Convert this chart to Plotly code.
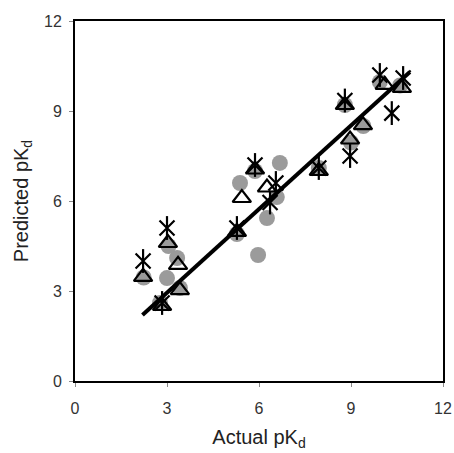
import plotly.graph_objects as go

# Gray circles series
circ_x = [2.77, 3.0, 3.42, 3.33, 3.05, 2.24, 5.28, 5.97, 5.38, 5.87, 6.68, 6.58, 6.26, 7.95, 8.8, 9.4, 9.0, 9.94, 10.6]
circ_y = [2.6, 3.43, 3.1, 4.1, 4.5, 3.45, 4.9, 4.2, 6.6, 7.0, 7.27, 6.13, 5.43, 7.1, 9.2, 8.5, 7.95, 9.97, 9.85]

# Open triangles series
tri_x = [2.84, 3.42, 3.36, 3.03, 2.22, 5.28, 5.44, 5.87, 6.26, 7.95, 8.8, 9.39, 8.97, 10.1, 10.66]
tri_y = [2.5, 3.03, 3.87, 4.6, 3.47, 4.97, 6.1, 7.05, 6.45, 7.0, 9.2, 8.53, 8.05, 9.87, 9.77]

# Asterisk series
ast_x = [2.84, 3.0, 2.22, 5.28, 5.87, 6.55, 6.36, 7.95, 8.8, 8.97, 9.94, 10.7, 10.33]
ast_y = [2.6, 5.1, 4.0, 5.1, 7.2, 6.6, 5.95, 7.1, 9.35, 7.5, 10.2, 10.1, 8.93]

# Trend line end points
fit_x = [2.2, 10.92]
fit_y = [2.2, 10.3]

ticks = [0, 3, 6, 9, 12]

fig = go.Figure()
fig.add_trace(go.Scatter(x=circ_x, y=circ_y, mode="markers",
                         marker=dict(symbol="circle", size=16, color="#9b9b9b", line=dict(width=0))))
fig.add_trace(go.Scatter(x=tri_x, y=tri_y, mode="markers",
                         marker=dict(symbol="triangle-up-open", size=16, color="black", line=dict(width=2.2, color="black"))))
fig.add_trace(go.Scatter(x=ast_x, y=ast_y, mode="markers",
                         marker=dict(symbol="x-thin-open", size=15, color="black", line=dict(width=2.2, color="black"))))
fig.add_trace(go.Scatter(x=ast_x, y=ast_y, mode="markers",
                         marker=dict(symbol="line-ns-open", size=17, color="black", line=dict(width=2.2, color="black"))))
fig.add_trace(go.Scatter(x=fit_x, y=fit_y, mode="lines", line=dict(color="black", width=4)))

def axis(standoff):
    return dict(range=[0, 12], tickvals=ticks, ticktext=[str(t) for t in ticks],
                showgrid=False, zeroline=False, showline=True, mirror=True,
                linecolor="black", linewidth=2, ticks="outside", ticklen=4,
                tickcolor="#888", tickwidth=1, ticklabelstandoff=standoff,
                automargin=False,
                tickfont=dict(family="Liberation Sans, Arial", size=16, color="#333"))

fig.update_layout(
    width=454, height=453,
    margin=dict(l=75, r=11, t=21, b=72),
    paper_bgcolor="white", plot_bgcolor="white",
    showlegend=False,
    xaxis=dict(**axis(8), title=dict(text="Actual pK<sub>d</sub>", standoff=14,
               font=dict(family="Liberation Sans, Arial", size=20, color="#222"))),
    yaxis=dict(**axis(4), title=dict(text="Predicted pK<sub>d</sub>", standoff=10,
               font=dict(family="Liberation Sans, Arial", size=20, color="#222"))),
)
fig.write_html("out.html")
